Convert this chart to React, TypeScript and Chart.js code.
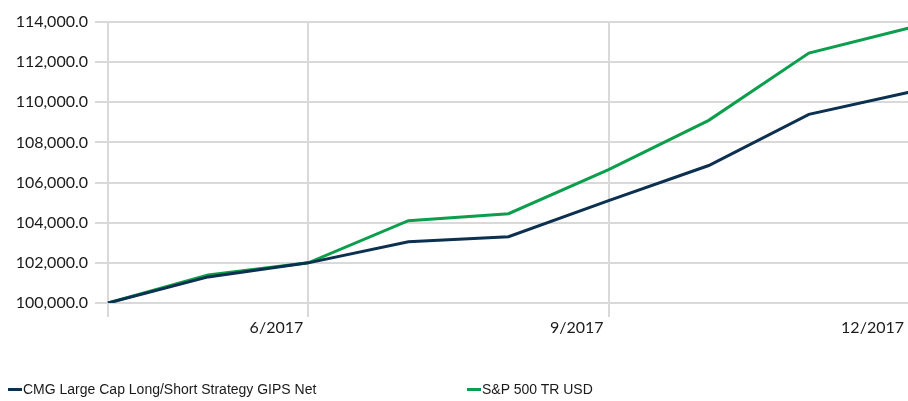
import React, { useEffect, useRef } from "react";
import { Chart, registerables } from "chart.js";

Chart.register(...registerables);

const categories = ["4/2017", "5/2017", "6/2017", "7/2017", "8/2017", "9/2017", "10/2017", "11/2017", "12/2017"];
const shownLabels = ["6/2017", "9/2017", "12/2017"];
const cmgValues = [100000, 101300, 102000, 103050, 103300, 105100, 106850, 109400, 110500];
const spValues = [100000, 101400, 102000, 104100, 104450, 106650, 109100, 112450, 113700];
const seriesNames = ["CMG Large Cap Long/Short Strategy GIPS Net", "S&P 500 TR USD"];
const seriesColors = ["#0c3050", "#0b9e4c"];

export default function App() {
  const ref = useRef<HTMLCanvasElement>(null);
  useEffect(() => {
    if (!ref.current) return;
    const gridIdx = [0, 2, 5, 8];
    const chart = new Chart(ref.current, {
      type: "line",
      data: {
        labels: categories,
        datasets: [
          { label: seriesNames[0], data: cmgValues, borderColor: seriesColors[0], backgroundColor: seriesColors[0], borderWidth: 3, pointRadius: 0, tension: 0 },
          { label: seriesNames[1], data: spValues, borderColor: seriesColors[1], backgroundColor: seriesColors[1], borderWidth: 3, pointRadius: 0, tension: 0 },
        ],
      },
      options: {
        animation: false,
        responsive: false,
        maintainAspectRatio: false,
        layout: { padding: { top: 22, right: 0, bottom: 0, left: 0 } },
        plugins: { legend: { display: false }, tooltip: { enabled: false } },
        scales: {
          x: {
            type: "category",
            offset: false,
            border: { display: false },
            grid: {
              color: (ctx: any) => (gridIdx.includes(ctx.index) ? "#d9d9d9" : "rgba(0,0,0,0)"),
              lineWidth: 2,
              tickLength: 14,
              drawOnChartArea: true,
            },
            ticks: {
              autoSkip: false,
              maxRotation: 0,
              align: "end",
              labelOffset: -5,
              padding: 1,
              color: "#1a1a1a",
              font: { family: "Lato", size: 16 },
              callback: (_v: any, i: number) => (shownLabels.includes(categories[i]) ? categories[i] : ""),
            },
            afterFit: (s: any) => { s.height = 98; },
          },
          y: {
            min: 100000,
            max: 114000,
            border: { display: false },
            grid: { color: "#d9d9d9", lineWidth: 2, tickLength: 13 },
            ticks: {
              stepSize: 2000,
              padding: 7,
              color: "#1a1a1a",
              font: { family: "Lato", size: 16 },
              callback: (v: any) => Number(v).toLocaleString("en-US", { minimumFractionDigits: 1, maximumFractionDigits: 1 }),
            },
            afterFit: (s: any) => { s.width = 108; },
          },
        },
      },
    });
    return () => chart.destroy();
  }, []);

  const legendItem = (i: number, left: number) => (
    <div style={{ position: "absolute", left, top: 381, display: "flex", alignItems: "center", fontFamily: "'Liberation Sans Narrow', sans-serif", fontSize: 14, color: "#1a1a1a", whiteSpace: "nowrap" }}>
      <span style={{ display: "inline-block", width: 14, height: 3, background: seriesColors[i], marginRight: 1 }} />
      <span>{seriesNames[i]}</span>
    </div>
  );

  return (
    <div style={{ position: "fixed", left: 0, top: 0, width: 908, height: 401, background: "#fff", overflow: "hidden" }}>
      <canvas ref={ref} width={910} height={401} style={{ position: "absolute", left: 0, top: 0 }} />
      {legendItem(0, 8)}
      {legendItem(1, 467)}
    </div>
  );
}
